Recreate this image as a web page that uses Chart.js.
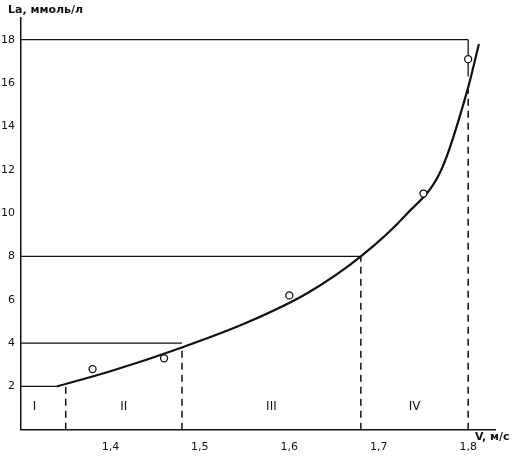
<!DOCTYPE html><html><head><style>body{margin:0;background:#fff}#w{width:531px;height:457px}</style>
<script src="https://cdn.jsdelivr.net/npm/chart.js"></script></head><body><div id="w"><canvas id="c"></canvas></div>
<script>
const pointsX=[1.38,1.46,1.6,1.75,1.8];
const pointsY=[2.8,3.3,6.2,10.9,17.1];
const curveX=[1.34,1.4,1.48,1.55,1.62,1.68,1.73,1.77,1.8,1.812];
const curveY=[2.0,2.7,3.8,4.9,6.3,8.0,9.9,12.0,15.8,17.8];
const levelsY=[2,4,8,18];
const levelsX=[1.34,1.48,1.68,1.8];
const dashX=[1.35,1.48,1.68,1.8];
const dashTopY=[2.05,3.8,8.0,15.8];
const zones=['I','II','III','IV'];
const zoneX=[1.315,1.415,1.58,1.74];
const xTicks=[1.4,1.5,1.6,1.7,1.8];
const ds=[];
ds.push({type:'scatter',data:pointsX.map((x,i)=>({x,y:pointsY[i]})),pointStyle:'circle',pointRadius:3.5,borderColor:'#111',backgroundColor:'#fff',borderWidth:1.3});
ds.push({type:'line',data:curveX.map((x,i)=>({x,y:curveY[i]})),borderColor:'#111',borderWidth:2.2,pointRadius:0,cubicInterpolationMode:'monotone'});
levelsY.forEach((y,i)=>ds.push({type:'line',data:[{x:1.3,y},{x:levelsX[i],y}],borderColor:'#111',borderWidth:1.3,pointRadius:0}));
ds.push({type:'line',data:[{x:1.8,y:18},{x:1.8,y:16.3}],borderColor:'#111',borderWidth:1.3,pointRadius:0});
dashX.forEach((x,i)=>ds.push({type:'line',data:[{x,y:0},{x,y:dashTopY[i]}],borderColor:'#111',borderWidth:1.5,borderDash:[7,5],pointRadius:0}));
const txt={id:'t',afterDraw(ch){const c=ch.ctx,xs=ch.scales.x,ys=ch.scales.y;c.save();c.fillStyle='#111';c.font='12px "DejaVu Sans"';c.textAlign='center';
zones.forEach((z,i)=>c.fillText(z,xs.getPixelForValue(zoneX[i]),ys.getPixelForValue(0.9)));
c.font='bold 11px "DejaVu Sans"';c.textAlign='left';c.fillText('La, ммоль/л',8,13);c.fillText('V, м/с',475,440);c.restore();}};
new Chart(document.getElementById('c'),{data:{datasets:ds},plugins:[txt],options:{responsive:true,maintainAspectRatio:false,animation:false,
layout:{padding:{left:0,top:18,right:36,bottom:0}},plugins:{legend:{display:false},tooltip:{enabled:false}},
scales:{x:{type:'linear',min:1.3,max:1.83,grid:{display:false,drawTicks:true},border:{color:'#111',width:1.5},
afterBuildTicks:a=>{a.ticks=xTicks.map(v=>({value:v}));},ticks:{color:'#111',font:{size:11,family:'DejaVu Sans'},callback:v=>v.toFixed(1).replace('.',',')}},
y:{min:0,max:19,grid:{display:false,tickLength:5},border:{color:'#111',width:1.5},afterBuildTicks:a=>{a.ticks=[2,4,6,8,10,12,14,16,18].map(v=>({value:v}));},ticks:{color:'#111',padding:1,font:{size:11,family:'DejaVu Sans'}}}}}});
</script></body></html>
